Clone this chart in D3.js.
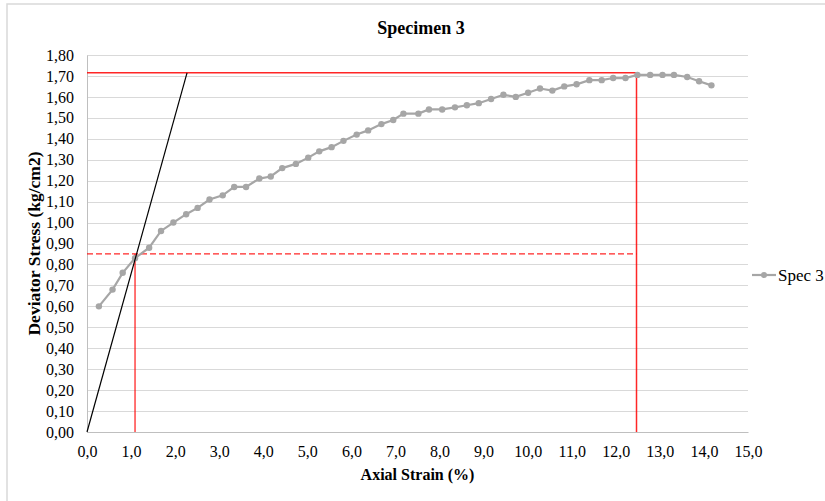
<!DOCTYPE html>
<html>
<head>
<meta charset="utf-8">
<script src="https://cdnjs.cloudflare.com/ajax/libs/d3/7.8.5/d3.min.js"></script>
<style>
  body { margin: 0; background: #fff; }
  svg text { font-family: "Liberation Serif", "Times New Roman", serif; fill: #000; }
</style>
</head>
<body>
<div id="chart"></div>
<script>
// Spec 3 readings: axial strain (%) and deviator stress (kg/cm2)
const strain = [0.27, 0.58, 0.81, 1.09, 1.41, 1.68, 1.96, 2.25, 2.51, 2.78, 3.08, 3.34, 3.61, 3.91, 4.17,
  4.43, 4.74, 5.02, 5.27, 5.55, 5.82, 6.12, 6.38, 6.68, 6.95, 7.18, 7.52, 7.76, 8.06, 8.35, 8.62, 8.89,
  9.17, 9.45, 9.73, 10.01, 10.28, 10.56, 10.83, 11.11, 11.40, 11.68, 11.94, 12.22, 12.49, 12.78, 13.06,
  13.32, 13.62, 13.89, 14.17];
const stress = [0.60, 0.68, 0.76, 0.83, 0.88, 0.96, 1.00, 1.04, 1.07, 1.11, 1.13, 1.17, 1.17, 1.21, 1.22,
  1.26, 1.28, 1.31, 1.34, 1.36, 1.39, 1.42, 1.44, 1.47, 1.49, 1.52, 1.52, 1.54, 1.54, 1.55, 1.56, 1.57,
  1.59, 1.61, 1.60, 1.62, 1.64, 1.63, 1.65, 1.66, 1.68, 1.68, 1.69, 1.69, 1.705, 1.705, 1.705,
  1.705, 1.695, 1.675, 1.655];

// construction lines
const peakStress = 1.715, peakStrain = 12.47;
const halfStress = 0.85, halfStrain = 1.09;
const tangentEnd = [2.27, 1.715];

const xTicks = d3.range(0, 15.01, 1);
const yTicks = d3.range(0, 1.801, 0.1);

const width = 825, height = 501;
const margin = { top: 55, right: 77, bottom: 69, left: 87 };

const svg = d3.select("#chart").append("svg")
  .attr("width", width)
  .attr("height", height);

// chart frame (top and left edges visible)
svg.append("path")
  .attr("d", `M7,${height} V4 H${width}`)
  .attr("fill", "none")
  .attr("stroke", "#d9d9d9")
  .attr("stroke-width", 1.5);

const x = d3.scaleLinear().domain([0, 15]).range([margin.left, width - margin.right]);
const y = d3.scaleLinear().domain([0, 1.8]).range([height - margin.bottom, margin.top]);

const fmt = (d, n) => d.toFixed(n).replace(".", ",");

// horizontal gridlines
svg.append("g")
  .selectAll("line")
  .data(yTicks)
  .enter().append("line")
  .attr("x1", x(0)).attr("x2", x(15))
  .attr("y1", d => Math.round(y(d)) + 0.5).attr("y2", d => Math.round(y(d)) + 0.5)
  .attr("stroke", "#d9d9d9")
  .attr("stroke-width", 1.2);

// y axis
const yAxis = d3.axisLeft(y).tickValues(yTicks).tickSize(0).tickPadding(13).tickFormat(d => fmt(d, 2));
const gy = svg.append("g").attr("transform", `translate(${x(0)},0)`).call(yAxis);
gy.select(".domain").attr("stroke", "#bfbfbf");
gy.selectAll("text").style("font-size", "16px").attr("font-family", null);

// x axis
const xAxis = d3.axisBottom(x).tickValues(xTicks).tickSize(0).tickPadding(14).tickFormat(d => fmt(d, 1));
const gx = svg.append("g").attr("transform", `translate(0,${y(0)})`).call(xAxis);
gx.select(".domain").attr("stroke", "#bfbfbf");
gx.selectAll("text").style("font-size", "16px").attr("font-family", null);

// red construction lines
const red = "rgba(255,0,0,0.85)";
svg.append("line")
  .attr("x1", x(0)).attr("x2", x(peakStrain))
  .attr("y1", y(peakStress)).attr("y2", y(peakStress))
  .attr("stroke", red).attr("stroke-width", 1.5);
svg.append("line")
  .attr("x1", x(peakStrain)).attr("x2", x(peakStrain))
  .attr("y1", y(0)).attr("y2", y(peakStress))
  .attr("stroke", red).attr("stroke-width", 1.5);
svg.append("line")
  .attr("x1", x(0)).attr("x2", x(peakStrain))
  .attr("y1", y(halfStress)).attr("y2", y(halfStress))
  .attr("stroke", red).attr("stroke-width", 1.3)
  .attr("stroke-dasharray", "6,3");
svg.append("line")
  .attr("x1", x(halfStrain)).attr("x2", x(halfStrain))
  .attr("y1", y(0)).attr("y2", y(halfStress))
  .attr("stroke", red).attr("stroke-width", 1.3);

// data series
const data = strain.map((s, i) => [s, stress[i]]);
const line = d3.line().x(d => x(d[0])).y(d => y(d[1]));

svg.append("path")
  .datum(data)
  .attr("fill", "none")
  .attr("stroke", "#a6a6a6")
  .attr("stroke-width", 2.2)
  .attr("d", line);

svg.selectAll("circle.pt")
  .data(data)
  .enter().append("circle")
  .attr("class", "pt")
  .attr("cx", d => x(d[0]))
  .attr("cy", d => y(d[1]))
  .attr("r", 3.2)
  .attr("fill", "#a6a6a6");

// tangent line
svg.append("line")
  .attr("x1", x(0)).attr("y1", y(0))
  .attr("x2", x(tangentEnd[0])).attr("y2", y(tangentEnd[1]))
  .attr("stroke", "#000").attr("stroke-width", 1.2);

// title and axis titles
svg.append("text")
  .attr("x", 421).attr("y", 34)
  .attr("text-anchor", "middle")
  .style("font-size", "18px").style("font-weight", "bold")
  .text("Specimen 3");

svg.append("text")
  .attr("x", (x(0) + x(15)) / 2).attr("y", 480)
  .attr("text-anchor", "middle")
  .style("font-size", "16px").style("font-weight", "bold")
  .text("Axial Strain (%)");

svg.append("text")
  .attr("transform", `translate(40,${(y(0) + y(1.8)) / 2}) rotate(-90)`)
  .attr("text-anchor", "middle")
  .style("font-size", "17.5px").style("font-weight", "bold")
  .text("Deviator Stress (kg/cm2)");

// legend
const lg = svg.append("g").attr("transform", "translate(752,275)");
lg.append("line").attr("x1", 0).attr("x2", 24).attr("y1", 0).attr("y2", 0)
  .attr("stroke", "#a6a6a6").attr("stroke-width", 2.2);
lg.append("circle").attr("cx", 12).attr("cy", 0).attr("r", 3).attr("fill", "#a6a6a6");
lg.append("text").attr("x", 26).attr("y", 5.5)
  .style("font-size", "17px")
  .text("Spec 3");
</script>
</body>
</html>
